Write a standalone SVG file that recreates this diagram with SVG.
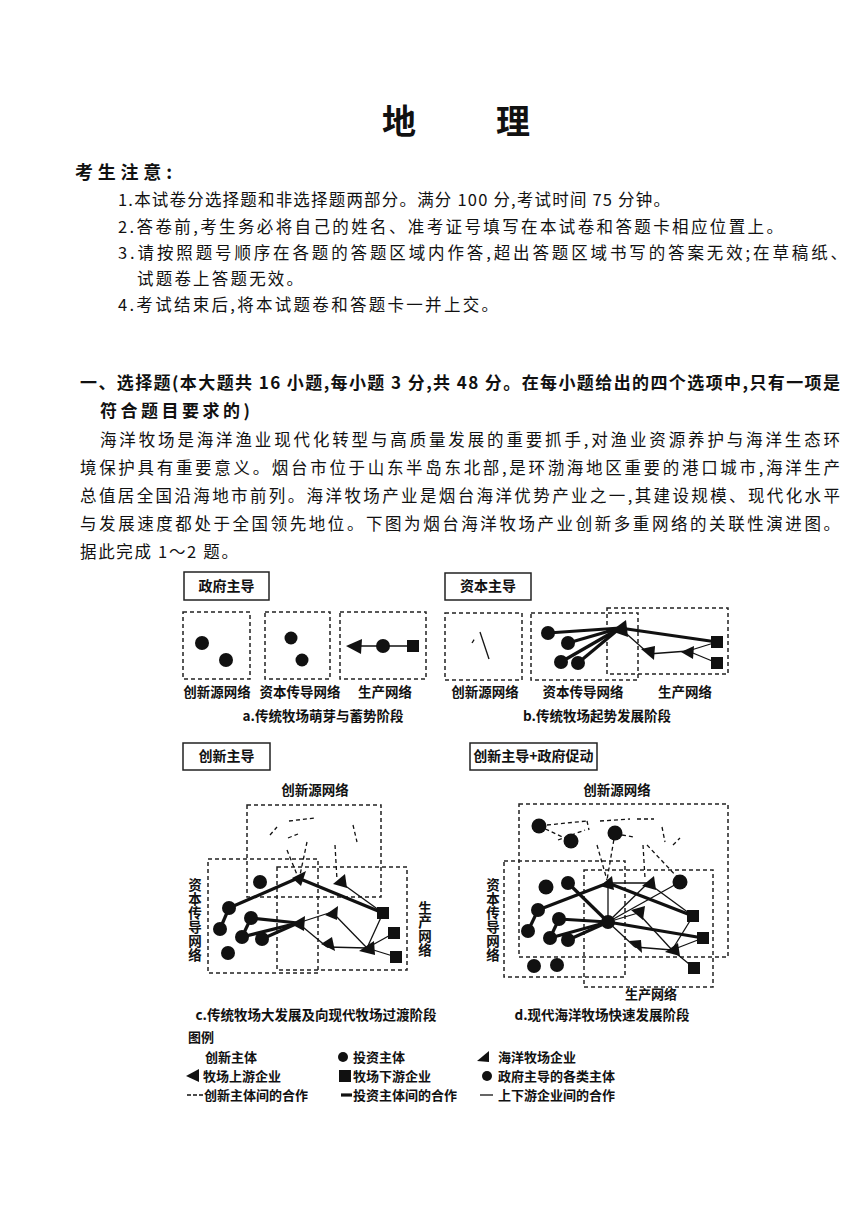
<svg xmlns="http://www.w3.org/2000/svg" width="867" height="1228" viewBox="0 0 867 1228">
<style>
text{font-family:"Noto Sans CJK SC","Noto Sans CJK JP",sans-serif;fill:#111}
.title{font-size:34px;font-weight:bold}
.h{font-size:18px;font-weight:bold}
.body{font-size:16.5px}
.sec{font-size:17px;font-weight:bold}
.lbl{font-size:13.5px;font-weight:bold}
.leg{font-size:13px;font-weight:bold}
.vert{font-size:13.5px;font-weight:bold;writing-mode:vertical-rl}
.box{font-size:14px;font-weight:bold}
.dbox{fill:none;stroke:#222;stroke-width:1.5;stroke-dasharray:4 3}
.sbox{fill:none;stroke:#222;stroke-width:1.5}
.thick{stroke:#111;stroke-width:3.2;fill:none}
.thin{stroke:#111;stroke-width:1.3;fill:none}
.dash{stroke:#111;stroke-width:1.3;fill:none;stroke-dasharray:4 3}
.n{fill:#111}
</style>
<rect width="867" height="1228" fill="#fff"/>

<!-- Header -->
<g id="header">
<text class="title" x="382" y="134">地</text>
<text class="title" x="496" y="134">理</text>
<text class="h" x="75" y="179" textLength="97" lengthAdjust="spacing">考生注意:</text>
<text class="body" x="118" y="206" textLength="552" lengthAdjust="spacing">1.本试卷分选择题和非选择题两部分。满分 100 分,考试时间 75 分钟。</text>
<text class="body" x="118" y="233" textLength="665" lengthAdjust="spacing">2.答卷前,考生务必将自己的姓名、准考证号填写在本试卷和答题卡相应位置上。</text>
<text class="body" x="118" y="259" textLength="729" lengthAdjust="spacing">3.请按照题号顺序在各题的答题区域内作答,超出答题区域书写的答案无效;在草稿纸、</text>
<text class="body" x="137" y="285" textLength="166" lengthAdjust="spacing">试题卷上答题无效。</text>
<text class="body" x="118" y="311" textLength="380" lengthAdjust="spacing">4.考试结束后,将本试题卷和答题卡一并上交。</text>
</g>

<g id="section">
<text class="sec" x="80" y="389" textLength="760" lengthAdjust="spacing">一、选择题(本大题共 16 小题,每小题 3 分,共 48 分。在每小题给出的四个选项中,只有一项是</text>
<text class="sec" x="100" y="417" textLength="150" lengthAdjust="spacing">符合题目要求的)</text>
<text class="body" x="100" y="446" textLength="740" lengthAdjust="spacing">海洋牧场是海洋渔业现代化转型与高质量发展的重要抓手,对渔业资源养护与海洋生态环</text>
<text class="body" x="80" y="474" textLength="760" lengthAdjust="spacing">境保护具有重要意义。烟台市位于山东半岛东北部,是环渤海地区重要的港口城市,海洋生产</text>
<text class="body" x="80" y="502" textLength="760" lengthAdjust="spacing">总值居全国沿海地市前列。海洋牧场产业是烟台海洋优势产业之一,其建设规模、现代化水平</text>
<text class="body" x="80" y="530" textLength="760" lengthAdjust="spacing">与发展速度都处于全国领先地位。下图为烟台海洋牧场产业创新多重网络的关联性演进图。</text>
<text class="body" x="80" y="558" textLength="158" lengthAdjust="spacing">据此完成 1～2 题。</text>
</g>

<!-- Panel a -->
<g id="panel-a">
<rect class="sbox" x="184" y="572" width="85" height="28"/>
<text class="box" x="226.5" y="591" text-anchor="middle">政府主导</text>
<rect class="dbox" x="183" y="612" width="67" height="67"/>
<rect class="dbox" x="265" y="612" width="65" height="67"/>
<rect class="dbox" x="340" y="612" width="86" height="67"/>
<circle class="n" cx="202" cy="643" r="7"/>
<circle class="n" cx="226" cy="660" r="7"/>
<circle class="n" cx="291" cy="638" r="6.5"/>
<circle class="n" cx="302" cy="660" r="6.5"/>
<line class="thin" x1="355" y1="646" x2="413" y2="646"/>
<polygon class="n" points="346,646 362,639 361,654"/>
<circle class="n" cx="383" cy="646" r="7"/>
<rect class="n" x="407" y="640" width="12" height="12"/>
<text class="lbl" x="217" y="697" text-anchor="middle">创新源网络</text>
<text class="lbl" x="300" y="697" text-anchor="middle">资本传导网络</text>
<text class="lbl" x="385" y="697" text-anchor="middle">生产网络</text>
<text class="lbl" x="323" y="721" text-anchor="middle">a.传统牧场萌芽与蓄势阶段</text>
</g>

<!-- Panel b -->
<g id="panel-b">
<rect class="sbox" x="445" y="573" width="86" height="27"/>
<text class="box" x="488" y="591" text-anchor="middle">资本主导</text>
<rect class="dbox" x="445" y="613" width="77" height="67"/>
<rect class="dbox" x="531" y="613" width="107" height="67"/>
<rect class="dbox" x="607" y="608" width="121" height="66"/>
<line class="dash" x1="472" y1="643" x2="475" y2="638"/>
<line class="thin" x1="480" y1="632" x2="489" y2="659"/>
<line class="thick" x1="548" y1="633" x2="620" y2="628"/>
<line class="thick" x1="568" y1="643" x2="620" y2="628"/>
<line class="thick" x1="561" y1="662" x2="620" y2="628"/>
<line class="thick" x1="578" y1="663" x2="620" y2="628"/>
<line class="thick" x1="620" y1="628" x2="717" y2="642"/>
<line class="thin" x1="620" y1="628" x2="648" y2="653"/>
<line class="thin" x1="648" y1="654" x2="688" y2="651"/>
<line class="thin" x1="688" y1="651" x2="717" y2="642"/>
<line class="thin" x1="688" y1="651" x2="717" y2="663"/>
<circle class="n" cx="548" cy="633" r="7"/>
<circle class="n" cx="568" cy="643" r="7"/>
<circle class="n" cx="561" cy="662" r="7"/>
<circle class="n" cx="578" cy="663" r="7"/>
<polygon class="n" points="611,631 626,620 628,637"/>
<polygon class="n" points="641,649 655,646 654,660 "/>
<polygon class="n" points="681,652 694,646 693,659"/>
<rect class="n" x="711" y="636" width="12" height="12"/>
<rect class="n" x="711" y="657" width="12" height="12"/>
<text class="lbl" x="485" y="697" text-anchor="middle">创新源网络</text>
<text class="lbl" x="583" y="697" text-anchor="middle">资本传导网络</text>
<text class="lbl" x="685" y="697" text-anchor="middle">生产网络</text>
<text class="lbl" x="597" y="721" text-anchor="middle">b.传统牧场起势发展阶段</text>
</g>

<!-- Panel c -->
<g id="panel-c">
<rect class="sbox" x="183" y="743" width="87" height="27"/>
<text class="box" x="226.5" y="761" text-anchor="middle">创新主导</text>
<text class="lbl" x="315" y="795" text-anchor="middle">创新源网络</text>
<rect class="dbox" x="247" y="805" width="134" height="92"/>
<rect class="dbox" x="208" y="859" width="110" height="114"/>
<rect class="dbox" x="277" y="867" width="130" height="103"/>
<text class="vert" x="195" y="878" textLength="84" lengthAdjust="spacing">资本传导网络</text>
<text class="vert" x="425" y="901" textLength="56" lengthAdjust="spacing">生产网络</text>
<line class="dash" x1="270" y1="835" x2="277" y2="827"/>
<line class="dash" x1="289" y1="821" x2="315" y2="818"/>
<line class="dash" x1="288" y1="838" x2="298" y2="834"/>
<line class="dash" x1="353" y1="825" x2="357" y2="842"/>
<line class="dash" x1="287" y1="850" x2="298" y2="877"/>
<line class="dash" x1="307" y1="842" x2="300" y2="875"/>
<line class="dash" x1="335" y1="845" x2="337" y2="880"/>
<line class="thick" x1="229" y1="908" x2="298" y2="878"/>
<line class="thick" x1="298" y1="878" x2="383" y2="913"/>
<line class="thick" x1="229" y1="908" x2="220" y2="929"/>
<line class="thick" x1="251" y1="918" x2="298" y2="923"/>
<line class="thick" x1="242" y1="937" x2="251" y2="918"/>
<line class="thick" x1="242" y1="937" x2="298" y2="923"/>
<line class="thick" x1="262" y1="939" x2="298" y2="923"/>
<line class="thin" x1="340" y1="882" x2="383" y2="913"/>
<line class="thin" x1="298" y1="923" x2="332" y2="912"/>
<line class="thin" x1="298" y1="923" x2="327" y2="947"/>
<line class="thin" x1="332" y1="912" x2="367" y2="948"/>
<line class="thin" x1="327" y1="947" x2="367" y2="948"/>
<line class="thin" x1="383" y1="913" x2="367" y2="948"/>
<line class="thin" x1="394" y1="933" x2="367" y2="948"/>
<line class="thin" x1="396" y1="957" x2="367" y2="948"/>
<circle class="n" cx="260" cy="882" r="7"/>
<circle class="n" cx="229" cy="908" r="7"/>
<circle class="n" cx="220" cy="929" r="7"/>
<circle class="n" cx="251" cy="918" r="7"/>
<circle class="n" cx="242" cy="937" r="7"/>
<circle class="n" cx="262" cy="939" r="7"/>
<circle class="n" cx="228" cy="953" r="7"/>
<polygon class="n" points="292,878 306,871 301,886"/>
<polygon class="n" points="333,884 345,874 347,888"/>
<polygon class="n" points="291,924 305,916 304,931"/>
<polygon class="n" points="325,915 338,906 337,920"/>
<polygon class="n" points="321,944 332,937 335,951"/>
<polygon class="n" points="359,951 374,941 375,955"/>
<rect class="n" x="377" y="907" width="12" height="12"/>
<rect class="n" x="388" y="927" width="12" height="12"/>
<rect class="n" x="390" y="951" width="12" height="12"/>
<text class="lbl" x="316" y="1020" text-anchor="middle">c.传统牧场大发展及向现代牧场过渡阶段</text>
</g>

<!-- Panel d -->
<g id="panel-d">
<rect class="sbox" x="470" y="743" width="127" height="27"/>
<text class="box" x="533.5" y="761" text-anchor="middle">创新主导+政府促动</text>
<text class="lbl" x="617" y="795" text-anchor="middle">创新源网络</text>
<rect class="dbox" x="519" y="804" width="209" height="153"/>
<rect class="dbox" x="504" y="861" width="121" height="116"/>
<rect class="dbox" x="584" y="870" width="129" height="117"/>
<text class="vert" x="493" y="878" textLength="84" lengthAdjust="spacing">资本传导网络</text>
<text class="leg" x="651" y="999" text-anchor="middle">生产网络</text>
<line class="dash" x1="539" y1="826" x2="571" y2="841"/>
<line class="dash" x1="547" y1="825" x2="587" y2="821"/>
<line class="dash" x1="587" y1="821" x2="589" y2="830"/>
<line class="dash" x1="558" y1="840" x2="585" y2="830"/>
<line class="dash" x1="600" y1="821" x2="630" y2="819"/>
<line class="dash" x1="637" y1="819" x2="654" y2="819"/>
<line class="dash" x1="622" y1="835" x2="634" y2="837"/>
<line class="dash" x1="662" y1="827" x2="665" y2="842"/>
<line class="dash" x1="673" y1="845" x2="680" y2="838"/>
<line class="dash" x1="615" y1="833" x2="607" y2="880"/>
<line class="dash" x1="597" y1="845" x2="607" y2="880"/>
<line class="dash" x1="643" y1="845" x2="645" y2="878"/>
<line class="dash" x1="647" y1="845" x2="680" y2="880"/>
<line class="thin" x1="608" y1="883" x2="648" y2="883"/>
<line class="thin" x1="608" y1="883" x2="608" y2="922"/>
<line class="thin" x1="608" y1="922" x2="648" y2="883"/>
<line class="thin" x1="608" y1="922" x2="680" y2="882"/>
<line class="thin" x1="608" y1="922" x2="638" y2="913"/>
<line class="thin" x1="608" y1="922" x2="635" y2="947"/>
<line class="thin" x1="648" y1="883" x2="693" y2="916"/>
<line class="thin" x1="638" y1="913" x2="672" y2="950"/>
<line class="thin" x1="635" y1="947" x2="672" y2="950"/>
<line class="thin" x1="693" y1="916" x2="672" y2="950"/>
<line class="thin" x1="703" y1="938" x2="672" y2="950"/>
<line class="thin" x1="672" y1="950" x2="694" y2="968"/>
<line class="thick" x1="538" y1="910" x2="608" y2="883"/>
<line class="thick" x1="608" y1="883" x2="693" y2="916"/>
<line class="thick" x1="538" y1="910" x2="528" y2="931"/>
<line class="thick" x1="568" y1="883" x2="608" y2="922"/>
<line class="thick" x1="559" y1="919" x2="608" y2="922"/>
<line class="thick" x1="559" y1="919" x2="550" y2="938"/>
<line class="thick" x1="550" y1="938" x2="608" y2="922"/>
<line class="thick" x1="568" y1="940" x2="608" y2="922"/>
<line class="thick" x1="608" y1="922" x2="703" y2="938"/>
<circle class="n" cx="539" cy="826" r="7.5"/>
<circle class="n" cx="571" cy="841" r="7.5"/>
<circle class="n" cx="615" cy="833" r="7.5"/>
<circle class="n" cx="680" cy="882" r="7.5"/>
<circle class="n" cx="546" cy="887" r="7.5"/>
<circle class="n" cx="568" cy="883" r="7"/>
<circle class="n" cx="538" cy="910" r="7"/>
<circle class="n" cx="559" cy="919" r="7"/>
<circle class="n" cx="528" cy="931" r="7"/>
<circle class="n" cx="550" cy="938" r="7"/>
<circle class="n" cx="568" cy="940" r="7"/>
<circle class="n" cx="534" cy="966" r="7"/>
<circle class="n" cx="557" cy="965" r="7"/>
<circle class="n" cx="608" cy="922" r="7"/>
<polygon class="n" points="600,886 612,876 614,890"/>
<polygon class="n" points="642,886 654,876 656,890"/>
<polygon class="n" points="631,910 645,906 643,920"/>
<polygon class="n" points="629,941 641,940 642,953"/>
<polygon class="n" points="665,952 678,943 680,956"/>
<rect class="n" x="687" y="910" width="12" height="12"/>
<rect class="n" x="697" y="932" width="12" height="12"/>
<rect class="n" x="688" y="962" width="12" height="12"/>
<text class="lbl" x="602" y="1020" text-anchor="middle">d.现代海洋牧场快速发展阶段</text>
</g>

<!-- Legend -->
<g id="legend">
<text class="leg" x="188" y="1042">图例</text>
<text class="leg" x="205" y="1062">创新主体</text>
<circle class="n" cx="343" cy="1057" r="5"/>
<text class="leg" x="353" y="1062">投资主体</text>
<polygon class="n" points="477,1061 489,1051 489,1062"/>
<text class="leg" x="498" y="1062">海洋牧场企业</text>
<polygon class="n" points="186,1076 199,1069 199,1082"/>
<text class="leg" x="203" y="1081">牧场上游企业</text>
<rect class="n" x="339" y="1070" width="12" height="12"/>
<text class="leg" x="353" y="1081">牧场下游企业</text>
<circle class="n" cx="487" cy="1076" r="5"/>
<text class="leg" x="498" y="1081">政府主导的各类主体</text>
<line class="dash" x1="187" y1="1095" x2="203" y2="1095" style="stroke-dasharray:4 2"/>
<text class="leg" x="204" y="1100">创新主体间的合作</text>
<line class="thick" x1="341" y1="1095" x2="352" y2="1095"/>
<text class="leg" x="353" y="1100">投资主体间的合作</text>
<line class="thin" x1="480" y1="1095" x2="493" y2="1095"/>
<text class="leg" x="498" y="1100">上下游企业间的合作</text>
</g>
</svg>
